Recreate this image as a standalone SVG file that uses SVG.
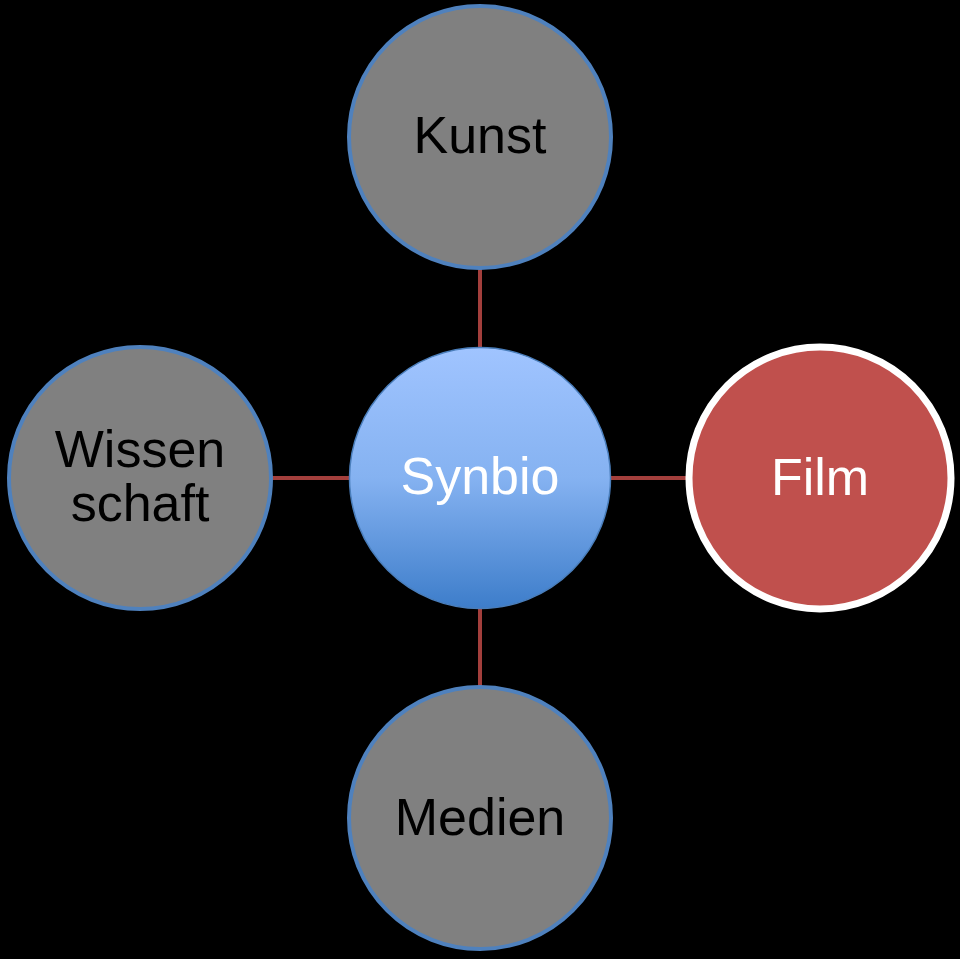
<svg xmlns="http://www.w3.org/2000/svg" width="960" height="959" viewBox="0 0 960 959">
<style>
.t{font-family:"Liberation Sans",Arial,sans-serif;font-size:52px;text-anchor:middle}
.g{fill:#808080;stroke:#4F81BD;stroke-width:4}
.c{stroke:#A33F3C;stroke-width:4;fill:none}
</style>
<defs>
<linearGradient id="bg" x1="0" y1="0" x2="0" y2="1">
<stop offset="0" stop-color="#A0C4FF"/>
<stop offset="0.5" stop-color="#85B2F1"/>
<stop offset="1" stop-color="#3D7DCA"/>
</linearGradient>
</defs>
<rect width="960" height="959" fill="#000"/>
<g id="connectors">
<line class="c" x1="480" y1="268" x2="480" y2="348"/>
<line class="c" x1="480" y1="608" x2="480" y2="686"/>
<line class="c" x1="272" y1="478" x2="349" y2="478"/>
<line class="c" x1="610" y1="478" x2="688" y2="478"/>
</g>
<g id="kunst">
<circle class="g" cx="480" cy="137" r="131"/>
<text class="t" x="480" y="153" fill="#000">Kunst</text>
</g>
<g id="synbio">
<circle cx="480" cy="478" r="130.5" fill="url(#bg)" stroke="#4A7EBB" stroke-width="1.5"/>
<text class="t" x="480" y="494" fill="#fff">Synbio</text>
</g>
<g id="film">
<circle cx="820" cy="478" r="131" fill="#C0504D" stroke="#fff" stroke-width="7"/>
<text class="t" x="820" y="495" fill="#fff">Film</text>
</g>
<g id="wissenschaft">
<circle class="g" cx="140" cy="478" r="131"/>
<text class="t" x="140" y="467" fill="#000">Wissen</text>
<text class="t" x="140" y="521" fill="#000">schaft</text>
</g>
<g id="medien">
<circle class="g" cx="480" cy="818" r="131"/>
<text class="t" x="480" y="835" fill="#000">Medien</text>
</g>
</svg>
